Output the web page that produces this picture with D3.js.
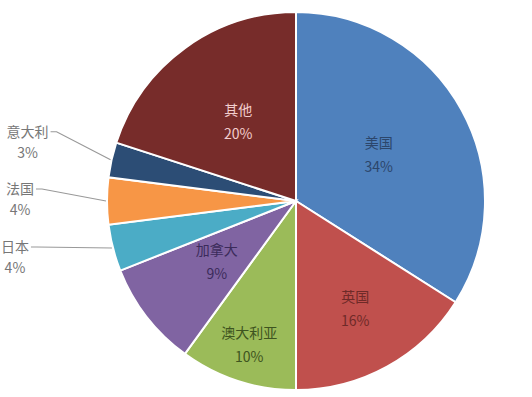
<!DOCTYPE html>
<html>
<head>
<meta charset="utf-8">
<script src="https://cdn.jsdelivr.net/npm/d3@7"></script>
<style>
  body { margin: 0; background: #fff; }
  text { font-family: "Noto Sans CJK SC", "Noto Sans", sans-serif; font-size: 14px; }
</style>
</head>
<body>
<div id="chart"></div>
<script>
'use strict';

var categories = ['美国', '英国', '澳大利亚', '加拿大', '日本', '法国', '意大利', '其他'];
var shares = [34, 16, 10, 9, 4, 4, 3, 20];

var colors = ['#4f81bd', '#c0504d', '#9bbb59', '#8064a2', '#4bacc6', '#f79646', '#2c4d75', '#772c2a'];
var labelColors = ['#2c466b', '#6e2a28', '#3e5420', '#3b2b5a', '#777', '#777', '#777', '#f2cdcd'];
// radius (fraction of r) for inner labels
var innerLabelR = {'美国': 0.5, '英国': 0.65, '澳大利亚': 0.8, '加拿大': 0.53, '其他': 0.52};
// outside labels: text centre offset from slice edge point
var outerLabel = {'日本': [-98, -1], '法国': [-87, -12], '意大利': [-84, -28]};

var width = 532, height = 397;
var cx = 296, cy = 201, r = 189;

var svg = d3.select('#chart').append('svg')
  .attr('width', width)
  .attr('height', height);

var data = categories.map(function (c, i) { return {name: c, value: shares[i], i: i}; });

var pie = d3.pie().sort(null).value(function (d) { return d.value; });
var arcs = pie(data);
var arc = d3.arc().innerRadius(0).outerRadius(r);

var g = svg.append('g').attr('transform', 'translate(' + cx + ',' + cy + ')');

g.selectAll('path')
  .data(arcs)
  .enter()
  .append('path')
  .attr('d', arc)
  .attr('fill', function (d) { return colors[d.data.i]; })
  .attr('stroke', '#fff')
  .attr('stroke-width', 2);

function polar(a, rad) { return [rad * Math.sin(a), -rad * Math.cos(a)]; }

arcs.forEach(function (d) {
  var name = d.data.name;
  var mid = (d.startAngle + d.endAngle) / 2;
  var col = labelColors[d.data.i];
  var p, tg;
  if (innerLabelR[name] != null) {
    p = polar(mid, r * innerLabelR[name]);
    tg = g.append('text')
      .attr('text-anchor', 'middle')
      .attr('fill', col);
    tg.append('tspan').attr('x', p[0]).attr('y', p[1] - 7).text(name);
    tg.append('tspan').attr('x', p[0]).attr('y', p[1] + 17).text(d.data.value + '%');
  } else {
    var e = polar(mid, r);
    var off = outerLabel[name];
    var tx = e[0] + off[0], ty = e[1] + off[1];
    var halfW = name.length * 7;
    g.append('polyline')
      .attr('points', [[tx + halfW + 2, ty], [tx + halfW + 8, ty], [e[0] - 1, e[1]]].join(' '))
      .attr('fill', 'none')
      .attr('stroke', '#999')
      .attr('stroke-width', 1.2);
    tg = g.append('text')
      .attr('text-anchor', 'middle')
      .attr('fill', col);
    tg.append('tspan').attr('x', tx).attr('y', ty + 5).text(name);
    tg.append('tspan').attr('x', tx).attr('y', ty + 26).text(d.data.value + '%');
  }
});
</script>
</body>
</html>
